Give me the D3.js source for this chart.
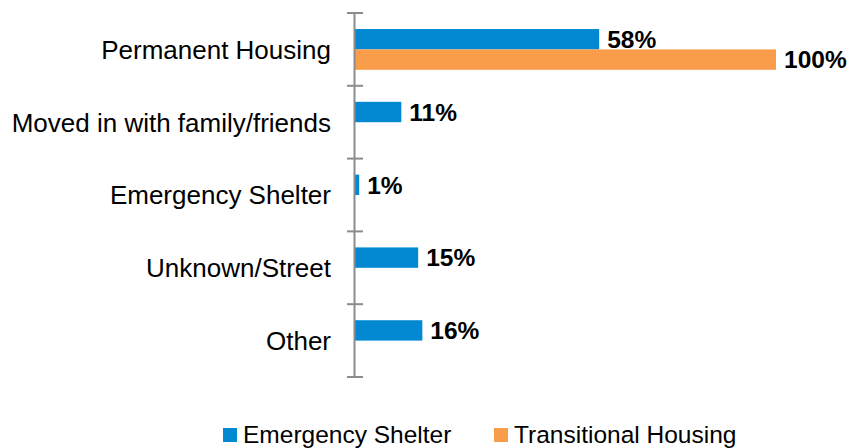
<!DOCTYPE html>
<html>
<head>
<meta charset="utf-8">
<script src="https://cdn.jsdelivr.net/npm/d3@7"></script>
<style>
    body { margin: 0; background: #fff; }
    text { font-family: "Liberation Sans", Arial, sans-serif; fill: #000; }
</style>
</head>
<body>
<div id="chart"></div>
<script>
var categories = ["Permanent Housing", "Moved in with family/friends", "Emergency Shelter", "Unknown/Street", "Other"];
var series_names = ["Emergency Shelter", "Transitional Housing"];
var series_colors = ["#0389d2", "#f99d4b"];
var emergency_shelter_values = [0.58, 0.11, 0.01, 0.15, 0.16];
var transitional_housing_values = [1.00, null, null, null, null];

var width = 858;
var height = 448;

var svg = d3.select("#chart").append("svg")
            .attr("width", width)
            .attr("height", height);

var axis_x = 355;

var x_scale = d3.scaleLinear()
                .domain([0, 1])
                .range([axis_x, 776]);

var y_scale = d3.scaleBand()
                .domain(categories)
                .range([13, 377])
                .paddingInner(0.44)
                .paddingOuter(0.22);

var y_inner = d3.scaleBand()
                .domain(series_names)
                .range([0, y_scale.bandwidth()]);

var rows = categories.map(function (name, i) {
    return {
        name: name,
        values: [emergency_shelter_values[i], transitional_housing_values[i]]
    };
});

// bars
var groups = svg.selectAll("g.row")
                .data(rows)
                .enter().append("g")
                .attr("class", "row")
                .attr("transform", function (d) { return "translate(0," + y_scale(d.name) + ")"; });

groups.each(function (row) {
    var group = d3.select(this);
    row.values.forEach(function (value, s) {
        if (value === null) return;
        var y = y_inner(series_names[s]);
        group.append("rect")
             .attr("x", x_scale(0))
             .attr("y", y)
             .attr("width", x_scale(value) - x_scale(0))
             .attr("height", y_inner.bandwidth())
             .attr("fill", series_colors[s]);

        group.append("text")
             .attr("x", x_scale(value) + 8)
             .attr("y", y + y_inner.bandwidth() / 2)
             .attr("dy", "0.36em")
             .style("font-size", "24.5px")
             .style("font-weight", "bold")
             .text(Math.round(value * 100) + "%");
    });
});

// category axis
var step = y_scale.step();
var tick_positions = d3.range(categories.length + 1).map(function (i) {
    return 13 + i * step;
});

svg.append("line")
   .attr("x1", axis_x - 0.5).attr("x2", axis_x - 0.5)
   .attr("y1", 13).attr("y2", 377)
   .attr("stroke", "#8c8c8c")
   .attr("stroke-width", 2);

svg.selectAll("line.tick")
   .data(tick_positions)
   .enter().append("line")
   .attr("class", "tick")
   .attr("x1", axis_x - 8).attr("x2", axis_x + 8)
   .attr("y1", function (d) { return d; })
   .attr("y2", function (d) { return d; })
   .attr("stroke", "#8c8c8c")
   .attr("stroke-width", 2);

svg.selectAll("text.category")
   .data(categories)
   .enter().append("text")
   .attr("class", "category")
   .attr("x", 331)
   .attr("y", function (d) { return y_scale(d) + y_scale.bandwidth() / 2; })
   .attr("dy", "0.36em")
   .attr("text-anchor", "end")
   .style("font-size", "26px")
   .text(function (d) { return d; });

// legend
var legend_positions = [223, 494];
var legend = svg.selectAll("g.legend")
                .data(series_names)
                .enter().append("g")
                .attr("class", "legend")
                .attr("transform", function (d, i) { return "translate(" + legend_positions[i] + ",0)"; });

legend.append("rect")
      .attr("x", 0)
      .attr("y", 428)
      .attr("width", 14)
      .attr("height", 14)
      .attr("fill", function (d, i) { return series_colors[i]; });

legend.append("text")
      .attr("x", 20)
      .attr("y", 443)
      .style("font-size", "24.5px")
      .text(function (d) { return d; });
</script>
</body>
</html>
